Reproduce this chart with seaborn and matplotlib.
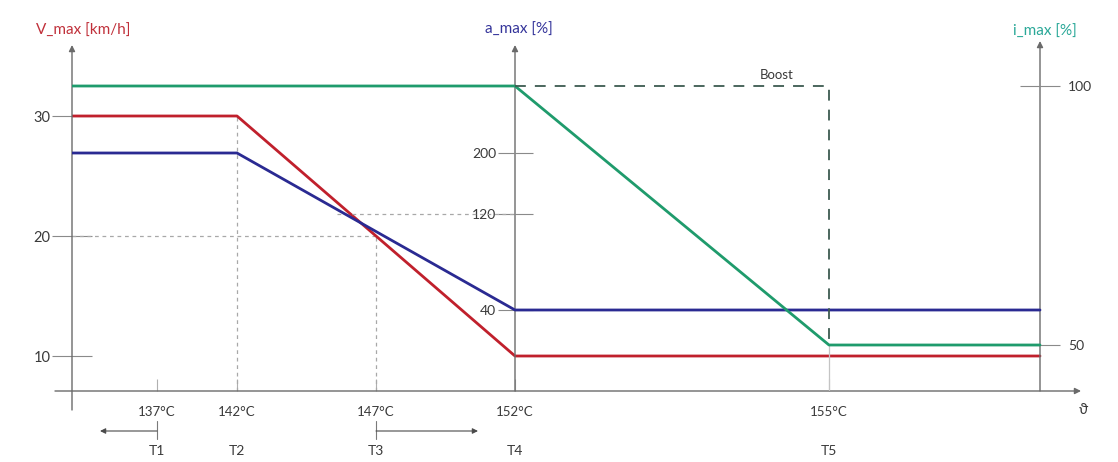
import numpy as np
import pandas as pd
import matplotlib
matplotlib.use("Agg")
import matplotlib.pyplot as plt
import seaborn as sns
from matplotlib.transforms import blended_transform_factory as blend

# ---------------------------------------------------------------- data
temps = [137, 142, 147, 152, 155]
temp_labels = ["137°C", "142°C", "147°C", "152°C", "155°C"]
stage_labels = ["T1", "T2", "T3", "T4", "T5"]

speed_ticks = [10, 20, 30]          # V_max [km/h]
accel_ticks = [40, 120, 200]        # a_max [%]
current_ticks = [50, 100]           # i_max [%]

speed_break_T = [142, 152]
speed_vals = [30, 10]
accel_break_T = [142, 152]
accel_vals = [200, 40]
current_break_T = [152, 155]
current_vals = [100, 50]
boost_T = [152, 155, 155]
boost_vals = [100, 100, 50]

speed_ref = 20      # reached at T3
accel_ref = 120

# ---------------------------------------------------------------- layout
W, H = 1118, 462
AX_L, AX_R, AX_T, AX_B = 72, 1078, 45, 391
TICK_PX = [157, 237, 376, 515, 829]
RIGHT_AXIS_PX = 1040

sns.set_theme(style="white")
plt.rcParams["font.family"] = ["Lato", "DejaVu Sans"]

TXT = "#3a3a3a"
GRID = "#a8a8a8"
AXC = "#6a6a6a"
RED = "#c0202c"
BLUE = "#2a2a92"
GREEN = "#1f9b6c"


def _pl(x, xs, ys):
    """Piecewise-linear map with linear extrapolation at both ends."""
    x = np.asarray(x, float)
    y = np.interp(x, xs, ys)
    lo_s = (ys[1] - ys[0]) / (xs[1] - xs[0])
    hi_s = (ys[-1] - ys[-2]) / (xs[-1] - xs[-2])
    y = np.where(x < xs[0], ys[0] + (x - xs[0]) * lo_s, y)
    y = np.where(x > xs[-1], ys[-1] + (x - xs[-1]) * hi_s, y)
    return y


def t_fwd(t):
    return _pl(t, temps, TICK_PX)


def t_inv(p):
    return _pl(p, TICK_PX, temps)


T_LEFT = float(t_inv(AX_L))
T_END = float(t_inv(AX_R))
T_RIGHT = float(t_inv(RIGHT_AXIS_PX))

fig = plt.figure(figsize=(W / 100, H / 100), dpi=100)
fig.patch.set_facecolor("white")
ax = fig.add_axes([AX_L / W, 1 - AX_B / H, (AX_R - AX_L) / W, (AX_B - AX_T) / H])
ax.set_xscale("function", functions=(t_fwd, t_inv))
ax.set_xlim(T_LEFT, T_END)


# speed axis: 30 km/h at y=116 px, 10 km/h at y=356 px
def kmh_at(px):
    return 30 - (px - 116) * 20 / (356 - 116)


ax.set_ylim(kmh_at(AX_B), kmh_at(AX_T))

# acceleration axis (compressed towards the top)
ax2 = ax.twinx()
pw = lambda v: np.sign(v) * np.abs(v) ** 0.4
ipw = lambda f: np.sign(f) * np.abs(f) ** 2.5
ax2.set_yscale("function", functions=(pw, ipw))


def acc_at(px):
    f = pw(200) - (px - 153) * (pw(200) - pw(40)) / (310 - 153)
    return float(ipw(f))


ax2.set_ylim(acc_at(AX_B), acc_at(AX_T))

# current axis
ax3 = ax.twinx()


def cur_at(px):
    return 100 - (px - 86) * 50 / (345 - 86)


ax3.set_ylim(cur_at(AX_B), cur_at(AX_T))

for a in (ax, ax2, ax3):
    for s in a.spines.values():
        s.set_visible(False)
    a.set_facecolor("none")
    a.grid(False)

# ---------------------------------------------------------------- curves
speed_df = pd.DataFrame({"T": [T_LEFT] + speed_break_T + [T_RIGHT],
                         "v": [speed_vals[0]] + speed_vals + [speed_vals[-1]]})
accel_df = pd.DataFrame({"T": [T_LEFT] + accel_break_T + [T_RIGHT],
                         "a": [accel_vals[0]] + accel_vals + [accel_vals[-1]]})
current_df = pd.DataFrame({"T": [T_LEFT] + current_break_T + [T_RIGHT],
                           "i": [current_vals[0]] + current_vals + [current_vals[-1]]})
boost_df = pd.DataFrame({"T": boost_T, "i": boost_vals})

# dashed guide lines
gkw = dict(color=GRID, lw=0.9, linestyles=(0, (3, 3)), zorder=1)
ybot = kmh_at(AX_B)
ax.vlines(speed_break_T[0], ybot, speed_vals[0], **gkw)
ax.hlines(speed_ref, T_LEFT, temps[2], **gkw)
ax.vlines(temps[2], ybot, speed_ref, **gkw)
frac = (pw(accel_vals[0]) - pw(accel_ref)) / (pw(accel_vals[0]) - pw(accel_vals[1]))
T_cross = float(t_inv(t_fwd(accel_break_T[0]) + frac * (t_fwd(accel_break_T[1]) - t_fwd(accel_break_T[0]))))
ax2.hlines(accel_ref, T_cross - 0.3, temps[3], **gkw)
ax3.vlines(temps[4], cur_at(AX_B), current_vals[1], color="#c4c4c4", lw=0.9, zorder=1)

sns.lineplot(data=speed_df, x="T", y="v", ax=ax, color=RED, lw=2.0,
             estimator=None, sort=False, zorder=3)
sns.lineplot(data=accel_df, x="T", y="a", ax=ax2, color=BLUE, lw=2.0,
             estimator=None, sort=False, zorder=3)
sns.lineplot(data=current_df, x="T", y="i", ax=ax3, color=GREEN, lw=2.0,
             estimator=None, sort=False, zorder=3)
sns.lineplot(data=boost_df, x="T", y="i", ax=ax3, color="#3d5a50", lw=1.3,
             estimator=None, sort=False, zorder=3, dashes=False,
             linestyle=(0, (6, 5)))
ax3.text(154.5, 102.1, "Boost", ha="center", va="center", fontsize=9.5, color=TXT)

for a in (ax, ax2, ax3):
    a.set_xlabel("")
    a.set_ylabel("")
    leg = a.get_legend()
    if leg:
        leg.remove()

# ---------------------------------------------------------------- ticks
tlen = 40 * 72 / 100
ax.set_yticks(speed_ticks)
ax.tick_params(axis="y", left=True, right=False, direction="inout", length=tlen,
               width=0.8, color="#8a8a8a", pad=1, labelsize=10.5, labelcolor=TXT)

ax2.yaxis.set_ticks_position("left")
ax2.spines["left"].set_position(("data", temps[3]))
ax2.set_yticks(accel_ticks)
ax2.tick_params(axis="y", left=True, right=False, labelleft=True, labelright=False,
                direction="inout", length=35 * 72 / 100, width=0.8, color="#8a8a8a",
                pad=1, labelsize=10, labelcolor=TXT)

ax3.spines["right"].set_position(("data", T_RIGHT))
ax3.set_yticks(current_ticks)
ax3.tick_params(axis="y", right=True, left=False, direction="inout", length=tlen,
                width=0.8, color="#8a8a8a", pad=6, labelsize=10, labelcolor=TXT)

ax.set_xticks(temps, temp_labels)
ax.tick_params(axis="x", bottom=True, direction="in", length=9, width=0.8,
               color="#b0b0b0", pad=11, labelsize=9.5, labelcolor=TXT)

# ---------------------------------------------------------------- axis lines with arrow heads
akw = dict(arrowstyle="-|>", color=AXC, lw=1.0, mutation_scale=9,
           shrinkA=0, shrinkB=0)
hb = lambda px: (AX_B - px) / (AX_B - AX_T)
ax.annotate("", xy=(0, 1.0), xytext=(0, hb(410)), xycoords="axes fraction",
            arrowprops=akw, annotation_clip=False)
bt = blend(ax.transData, ax.transAxes)
ax.annotate("", xy=(temps[3], 1.0), xytext=(temps[3], 0), xycoords=bt,
            arrowprops=akw, annotation_clip=False)
ax.annotate("", xy=(T_RIGHT, hb(41)), xytext=(T_RIGHT, 0), xycoords=bt,
            arrowprops=akw, annotation_clip=False)
ax.annotate("", xy=(1.003, 0), xytext=((55 - AX_L) / (AX_R - AX_L), 0),
            xycoords="axes fraction", arrowprops=akw, annotation_clip=False)

# direction arrows below the temperature axis
y_arr = hb(431)
skw = dict(arrowstyle="-|>", color="#4a4a4a", lw=0.8, mutation_scale=8,
           shrinkA=0, shrinkB=0)
ax.annotate("", xy=(float(t_inv(100)), y_arr), xytext=(temps[0], y_arr),
            xycoords=bt, arrowprops=skw, annotation_clip=False)
ax.annotate("", xy=(float(t_inv(478)), y_arr), xytext=(temps[2], y_arr),
            xycoords=bt, arrowprops=skw, annotation_clip=False)
for t in (temps[0], temps[2]):
    ax.plot([t, t], [hb(421), hb(439)], transform=bt, color="#7a7a7a", lw=0.8,
            clip_on=False)

for t, lab in zip(temps, stage_labels):
    ax.text(t, hb(451), lab, transform=bt, ha="center", va="center",
            fontsize=10, color=TXT, clip_on=False)

# ---------------------------------------------------------------- axis titles
fig.text(83 / W, 1 - 31 / H, "V_max [km/h]", ha="center", va="center",
         fontsize=11, color="#c0303a")
fig.text(519 / W, 1 - 30 / H, "a_max [%]", ha="center", va="center",
         fontsize=11, color="#34349a")
fig.text(1045 / W, 1 - 32 / H, "i_max [%]", ha="center", va="center",
         fontsize=11, color="#2aa898")
fig.text(1083 / W, 1 - 410 / H, "ϑ", ha="center", va="center",
         fontsize=10.5, color=TXT)

fig.savefig("out.png", dpi=100, facecolor="white")
